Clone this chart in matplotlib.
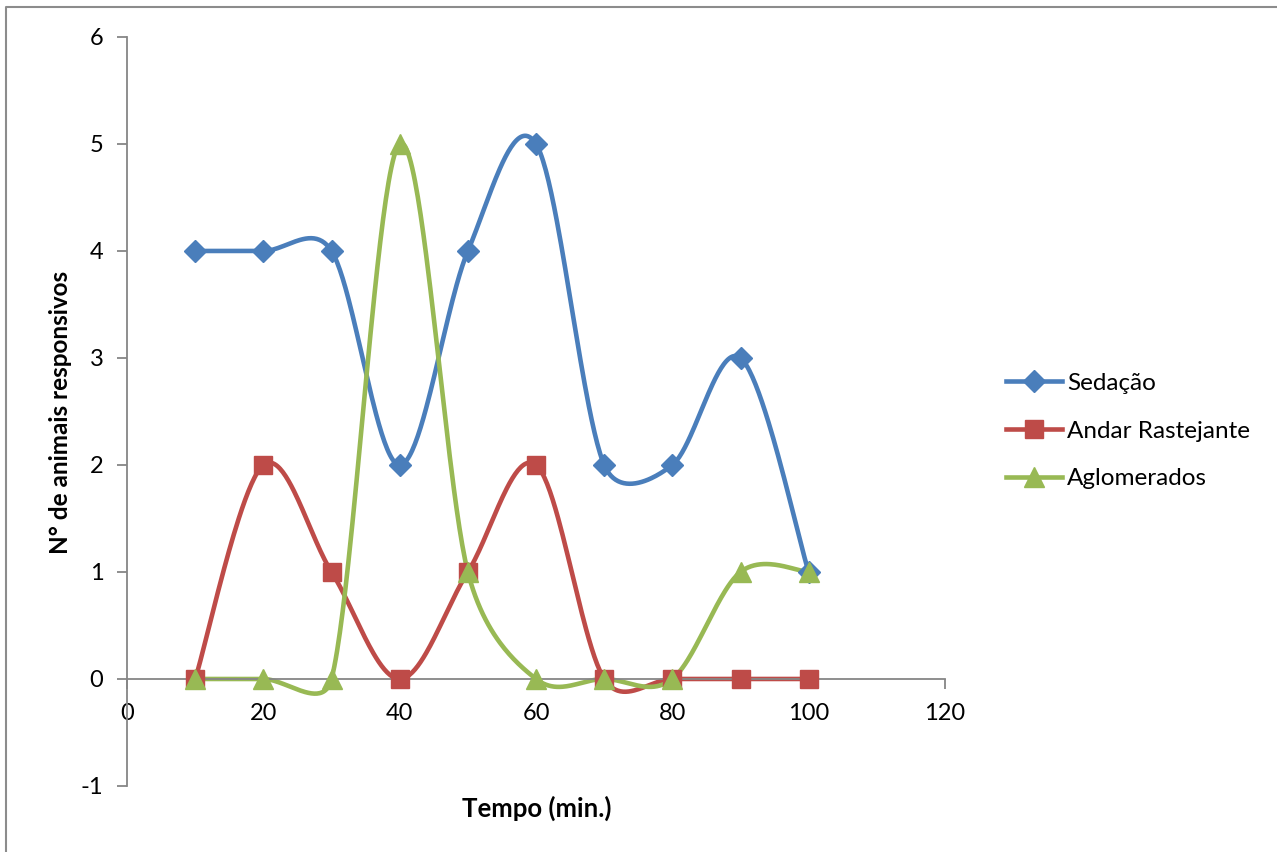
import numpy as np
import matplotlib
matplotlib.use("Agg")
import matplotlib.pyplot as plt
from matplotlib.lines import Line2D

tempo = [10, 20, 30, 40, 50, 60, 70, 80, 90, 100]
sedacao = [4, 4, 4, 2, 4, 5, 2, 2, 3, 1]
andar = [0, 2, 1, 0, 1, 2, 0, 0, 0, 0]
aglomerados = [0, 0, 0, 5, 1, 0, 0, 0, 1, 1]

series = [
    ("Sedação", sedacao, "#4A7EBB", "D", 11.5),
    ("Andar Rastejante", andar, "#BE4B48", "s", 13),
    ("Aglomerados", aglomerados, "#98B954", "^", 14),
]


def smooth(ax, x, y, n=50):
    # bezier smoothing; control arms are 1/6 of the neighbour span, shortened
    # (in display space) so they never exceed half the segment length
    tr = ax.transData
    p = tr.transform(np.column_stack([x, y]).astype(float))
    m = len(p)
    out = []
    for i in range(m - 1):
        p0 = p[max(i - 1, 0)]
        p1, p2 = p[i], p[i + 1]
        p3 = p[min(i + 2, m - 1)]
        d12 = np.hypot(*(p2 - p1))
        d02 = np.hypot(*(p2 - p0))
        d13 = np.hypot(*(p3 - p1))
        f1 = min(1 / 6, d12 / (2 * d02)) if d02 > 0 else 0
        f2 = min(1 / 6, d12 / (2 * d13)) if d13 > 0 else 0
        c1 = p1 + f1 * (p2 - p0)
        c2 = p2 - f2 * (p3 - p1)
        t = np.linspace(0, 1, n)[:, None]
        seg = ((1 - t) ** 3) * p1 + 3 * ((1 - t) ** 2) * t * c1 + 3 * (1 - t) * t ** 2 * c2 + t ** 3 * p2
        out.append(seg if i == 0 else seg[1:])
    seg = tr.inverted().transform(np.vstack(out))
    return seg[:, 0], seg[:, 1]


plt.rcParams["font.family"] = ["Lato", "DejaVu Sans"]
plt.rcParams["axes.unicode_minus"] = False
fig = plt.figure(figsize=(12.77, 8.52), dpi=100)
ax = fig.add_axes([0.0995, 0.0775, 0.6405, 0.8791])

ax.set_xlim(0, 120)
ax.set_ylim(-1, 6)
ax.set_xticks(range(0, 121, 20))
ax.set_yticks(range(-1, 7))

handles = []
for name, vals, color, mk, ms in series:
    sx, sy = smooth(ax, tempo, vals)
    ax.plot(sx, sy, color=color, lw=3.3, solid_capstyle="round", zorder=2)
    ax.plot(tempo, vals, ls="none", marker=mk, ms=ms, color=color, zorder=3)
    handles.append(Line2D([], [], color=color, lw=3.3, marker=mk, ms=ms, label=name))

axis_c = "#868686"
ax.spines["left"].set_position(("data", 0))
ax.spines["bottom"].set_position(("data", 0))
for s in ("top", "right"):
    ax.spines[s].set_visible(False)
for s in ("left", "bottom"):
    ax.spines[s].set_color(axis_c)
    ax.spines[s].set_linewidth(1.3)
ax.tick_params(axis="both", direction="out", length=7, width=1.3, color=axis_c,
               labelsize=17, labelcolor="black")
ax.tick_params(axis="y", pad=10)
ax.tick_params(axis="x", pad=10)

fig.text(0.047, 0.516, "N° de animais responsivos", rotation=90, ha="center", va="center",
         fontsize=17.5, fontweight="bold")
fig.text(0.42, 0.051, "Tempo (min.)", ha="center", va="center", fontsize=18.5, fontweight="bold")

fig.legend(handles=handles, loc="center left", bbox_to_anchor=(0.771, 0.494), frameon=False,
           fontsize=17.5, handlelength=2.3, handletextpad=0.2, labelspacing=1.1)

# chart frame (left and top edges)
fig.add_artist(Line2D([0.005, 0.005, 1.0], [0.0, 0.992, 0.992], transform=fig.transFigure,
                      color="#8c8c8c", lw=1.5))

fig.savefig("out.png", dpi=100)
